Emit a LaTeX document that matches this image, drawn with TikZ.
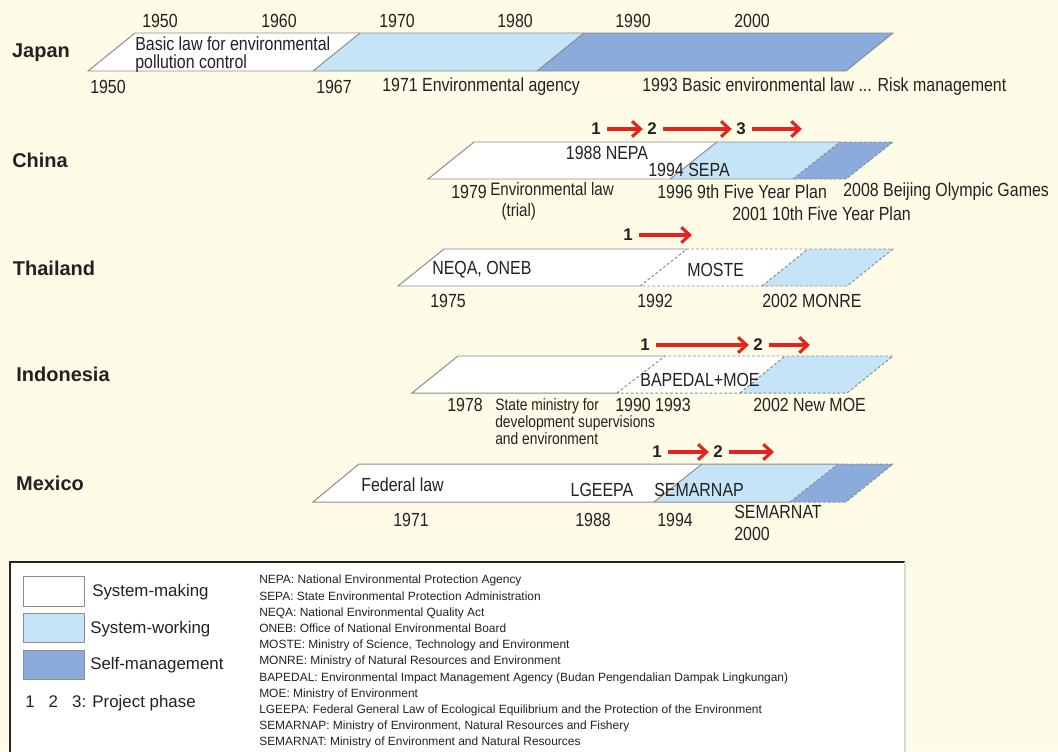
\documentclass[tikz,border=0pt]{standalone}
\usepackage{fontspec}
\setmainfont{Liberation Sans}
\newfontfamily\condfont[FakeStretch=0.84]{Liberation Sans}
\usepackage{tikz}
\usetikzlibrary{arrows.meta}

\definecolor{paper}{HTML}{FEFCE6}
\definecolor{working}{HTML}{C6E4F7}
\definecolor{selfman}{HTML}{8AABDB}
\definecolor{edge}{HTML}{8C8C8C}
\definecolor{phasered}{HTML}{E3231C}
\definecolor{ink}{HTML}{222222}

\tikzset{
	lbl/.style={font=\condfont\fontsize{13.5}{15}\selectfont, text=ink, inner sep=0pt},
	smalllbl/.style={font=\condfont\fontsize{11.7}{12.1}\selectfont, text=ink, inner sep=0pt, align=left},
	country/.style={font=\bfseries\fontsize{14.2}{16}\selectfont, text=ink, inner sep=0pt},
	phasenum/.style={font=\bfseries\fontsize{12}{14}\selectfont, text=ink, inner sep=0pt},
	phasearrow/.style={draw=phasered, line width=2.2pt, -{Straight Barb[length=6pt,width=11pt]}, shorten <=4.5pt, shorten >=3pt},
	barline/.style={draw=edge, line width=0.7pt},
	dashline/.style={barline, dashed, dash pattern=on 2pt off 1.5pt},
	swatch/.style={draw=edge, line width=0.7pt},
	legendlbl/.style={font=\fontsize{12}{14}\selectfont, text=ink, inner sep=0pt, anchor=west}
}

\begin{document}
\begin{tikzpicture}[x=0.025cm, y=-0.025cm]
	\useasboundingbox (0,0) rectangle (1058,751);
	\fill[paper] (0,0) rectangle (1058,751);

	% Japan
	\fill[white] (88,71) -- (135,33) -- (360,33) -- (313,71) -- cycle;
	\fill[working] (313,71) -- (360,33) -- (584,33) -- (537,71) -- cycle;
	\fill[selfman] (537,71) -- (584,33) -- (893,33) -- (846,71) -- cycle;
	\draw[barline] (88,71) -- (135,33) -- (893,33) -- (846,71) -- cycle;
	\draw[barline] (313,71) -- (360,33) (537,71) -- (584,33);
	\node[country] (japan) at (41,53) {Japan};
	\foreach \yr/\px in {1950/160, 1960/279, 1970/397, 1980/515, 1990/633, 2000/752}
		\node[lbl] (top\yr) at (\px,21) {\yr};
	\node[lbl, anchor=north west, align=left, font=\condfont\fontsize{13.5}{12.8}\selectfont] (jbasic) at (135,36) {Basic law for environmental\\pollution control};
	\node[lbl] (j1950) at (108,87) {1950};
	\node[lbl] (j1967) at (334,87) {1967};
	\node[lbl, anchor=west] (j1971) at (382,87) {1971 Environmental agency};
	\node[lbl, anchor=west] (j1993) at (642,87) {1993 Basic environmental law ... Risk management};

	% China
	\fill[white] (428,179) -- (474,142) -- (717,142) -- (670,179) -- cycle;
	\fill[working] (670,179) -- (717,142) -- (840,142) -- (793,179) -- cycle;
	\fill[selfman] (793,179) -- (840,142) -- (893,142) -- (846,179) -- cycle;
	\draw[barline] (840,142) -- (474,142) -- (428,179) -- (793,179);
	\draw[barline] (670,179) -- (717,142);
	\draw[dashline] (793,179) -- (840,142) -- (893,142) -- (846,179) -- cycle;
	\node[country] (china) at (40,160) {China};
	\node[phasenum] (c1) at (596,129) {1};
	\node[phasenum] (c2) at (652,129) {2};
	\node[phasenum] (c3) at (741,129) {3};
	\coordinate (cend) at (802,129);
	\draw[phasearrow] (c1) -- (c2);
	\draw[phasearrow] (c2) -- (c3);
	\draw[phasearrow, shorten >=0pt] (c3) -- (cend);
	\node[lbl] (nepa) at (607,153) {1988 NEPA};
	\node[lbl] (sepa) at (689,170) {1994 SEPA};
	\node[lbl] (c1979) at (469,192) {1979};
	\node[smalllbl, anchor=north west, font=\condfont\fontsize{12.8}{15}\selectfont] (claw) at (490,182) {Environmental law\\\hspace{8pt}(trial)};
	\node[lbl, anchor=west] (c1996) at (657,192) {1996 9th Five Year Plan};
	\node[lbl, anchor=west] (c2008) at (843,192) {2008 Beijing Olympic Games};
	\node[lbl, anchor=west] (c2001) at (732,214) {2001 10th Five Year Plan};

	% Thailand
	\fill[white] (398,286) -- (444,249) -- (808,249) -- (762,286) -- cycle;
	\fill[working] (762,286) -- (808,249) -- (893,249) -- (847,286) -- cycle;
	\draw[barline] (687,249) -- (444,249) -- (398,286) -- (640,286);
	\draw[dashline] (640,286) -- (687,249) -- (893,249) -- (847,286) -- cycle;
	\draw[dashline] (762,286) -- (808,249);
	\node[country] (thailand) at (54,268) {Thailand};
	\node[phasenum] (t1) at (628,235) {1};
	\coordinate (tend) at (692,235);
	\draw[phasearrow, shorten >=0pt] (t1) -- (tend);
	\node[lbl, anchor=west] (neqa) at (432,270) {NEQA, ONEB};
	\node[lbl, anchor=west] (moste) at (687,270) {MOSTE};
	\node[lbl] (t1975) at (448,301) {1975};
	\node[lbl] (t1992) at (655,301) {1992};
	\node[lbl, anchor=west] (t2002) at (762,301) {2002 MONRE};

	% Indonesia
	\fill[white] (412,393) -- (458,356) -- (785,356) -- (740,393) -- cycle;
	\fill[working] (740,393) -- (785,356) -- (893,356) -- (847,393) -- cycle;
	\draw[barline] (665,356) -- (458,356) -- (412,393) -- (617,393);
	\draw[dashline] (617,393) -- (665,356) -- (893,356) -- (847,393) -- cycle;
	\draw[dashline] (740,393) -- (785,356);
	\node[country] (indonesia) at (63,374) {Indonesia};
	\node[phasenum] (i1) at (645,345) {1};
	\node[phasenum] (i2) at (758,345) {2};
	\coordinate (iend) at (810,345);
	\draw[phasearrow] (i1) -- (i2);
	\draw[phasearrow, shorten >=0pt] (i2) -- (iend);
	\node[lbl] (bapedal) at (700,380) {BAPEDAL+MOE};
	\node[lbl] (i1978) at (465,405) {1978};
	\node[smalllbl, anchor=north west] (istate) at (495,398) {State ministry for\\development supervisions\\and environment};
	\node[lbl, anchor=west] (i1990) at (615,405) {1990 1993};
	\node[lbl, anchor=west] (i2002) at (753,405) {2002 New MOE};

	% Mexico
	\fill[white] (313,502) -- (359,464) -- (702,464) -- (654,502) -- cycle;
	\fill[working] (654,502) -- (702,464) -- (838,464) -- (790,502) -- cycle;
	\fill[selfman] (790,502) -- (838,464) -- (893,464) -- (846,502) -- cycle;
	\draw[barline] (838,464) -- (359,464) -- (313,502) -- (790,502);
	\draw[barline] (654,502) -- (702,464);
	\draw[dashline] (790,502) -- (838,464) -- (893,464) -- (846,502) -- cycle;
	\node[country] (mexico) at (50,483) {Mexico};
	\node[phasenum] (m1) at (657,452) {1};
	\node[phasenum] (m2) at (718,452) {2};
	\coordinate (mend) at (774,452);
	\draw[phasearrow] (m1) -- (m2);
	\draw[phasearrow, shorten >=0pt] (m2) -- (mend);
	\node[lbl, anchor=west] (federal) at (361,485) {Federal law};
	\node[lbl] (lgeepa) at (602,490) {LGEEPA};
	\node[lbl, anchor=west] (semarnap) at (654,490) {SEMARNAP};
	\node[lbl] (m1971) at (411,520) {1971};
	\node[lbl] (m1988) at (593,520) {1988};
	\node[lbl] (m1994) at (675,520) {1994};
	\node[lbl, anchor=west] (semarnat) at (734,512) {SEMARNAT};
	\node[lbl] (m2000) at (752,534) {2000};

	% legend
	\fill[white] (10,562) rectangle (905,760);
	\draw[black!85, line width=1.8pt] (905,562) -- (10,562) -- (10,760);
	\draw[black!15, line width=0.8pt] (905,562) -- (905,760);
	\draw[swatch, fill=white] (23,576) rectangle (84,606);
	\draw[swatch, fill=working] (23,613) rectangle (84,642);
	\draw[swatch, fill=selfman] (23,650) rectangle (84,679);
	\node[legendlbl] (lmaking) at (92,592) {System-making};
	\node[legendlbl] (lworking) at (90,629) {System-working};
	\node[legendlbl] (lself) at (90,665) {Self-management};
	\node[legendlbl] (lphase) at (25,703) {1\ \ \ 2\ \ \ 3: Project phase};
	\node[anchor=north west, align=left, inner sep=0pt, text=ink, font=\fontsize{8.5}{11.52}\selectfont] (abbrev) at (259,575) {%
		NEPA: National Environmental Protection Agency\\
		SEPA: State Environmental Protection Administration\\
		NEQA: National Environmental Quality Act\\
		ONEB: Office of National Environmental Board\\
		MOSTE: Ministry of Science, Technology and Environment\\
		MONRE: Ministry of Natural Resources and Environment\\
		BAPEDAL: Environmental Impact Management Agency (Budan Pengendalian Dampak Lingkungan)\\
		MOE: Ministry of Environment\\
		LGEEPA: Federal General Law of Ecological Equilibrium and the Protection of the Environment\\
		SEMARNAP: Ministry of Environment, Natural Resources and Fishery\\
		SEMARNAT: Ministry of Environment and Natural Resources};
\end{tikzpicture}
\end{document}
